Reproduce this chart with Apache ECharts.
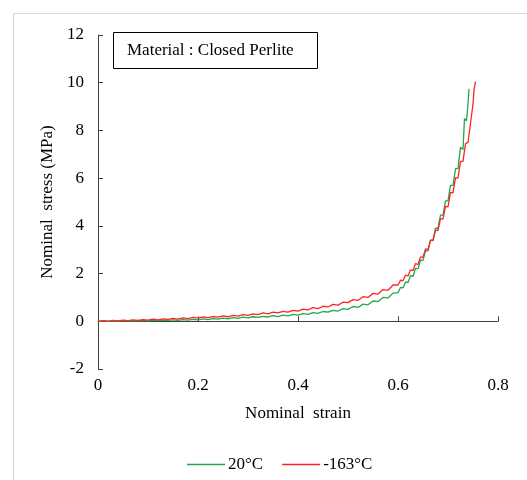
<!DOCTYPE html>
<html><head><meta charset="utf-8">
<script src="https://cdn.jsdelivr.net/npm/echarts@6/dist/echarts.min.js"></script>
<style>html,body{margin:0;padding:0;background:#fff}#c{width:527px;height:480px}</style>
</head><body><div id="c"></div>
<script>
const seriesNames = ['20\u00b0C', '-163\u00b0C'];
const strain20 = [0.00,0.01,0.02,0.03,0.04,0.05,0.06,0.07,0.08,0.09,0.10,0.11,0.12,0.13,0.14,0.15,0.16,0.17,0.18,0.19,0.20,0.21,0.22,0.23,0.24,0.25,0.26,0.27,0.28,0.29,0.30,0.31,0.32,0.33,0.34,0.35,0.36,0.37,0.38,0.39,0.40,0.41,0.42,0.43,0.44,0.45,0.46,0.47,0.48,0.49,0.50,0.51,0.52,0.53,0.54,0.55,0.56,0.57,0.58,0.59,0.60,0.605,0.61,0.615,0.62,0.625,0.63,0.635,0.64,0.645,0.65,0.655,0.66,0.665,0.67,0.675,0.68,0.685,0.69,0.695,0.70,0.705,0.71,0.715,0.72,0.725,0.73,0.733,0.737,0.74,0.742];
const stress20 = [0.00,0.02,0.00,0.02,0.01,0.03,0.01,0.03,0.02,0.04,0.02,0.05,0.03,0.05,0.04,0.06,0.04,0.07,0.05,0.08,0.06,0.10,0.07,0.11,0.09,0.13,0.10,0.15,0.12,0.17,0.14,0.19,0.16,0.21,0.18,0.24,0.20,0.26,0.23,0.29,0.26,0.32,0.29,0.36,0.33,0.41,0.38,0.46,0.43,0.53,0.50,0.62,0.58,0.72,0.69,0.85,0.82,1.00,0.98,1.18,1.20,1.42,1.40,1.65,1.62,1.92,1.88,2.22,2.20,2.56,2.55,2.95,2.95,3.40,3.40,3.90,3.90,4.45,4.45,5.05,5.05,5.70,5.70,6.40,6.40,7.30,7.20,8.50,8.40,9.10,9.75];
const strain163 = [0.00,0.01,0.02,0.03,0.04,0.05,0.06,0.07,0.08,0.09,0.10,0.11,0.12,0.13,0.14,0.15,0.16,0.17,0.18,0.19,0.20,0.21,0.22,0.23,0.24,0.25,0.26,0.27,0.28,0.29,0.30,0.31,0.32,0.33,0.34,0.35,0.36,0.37,0.38,0.39,0.40,0.41,0.42,0.43,0.44,0.45,0.46,0.47,0.48,0.49,0.50,0.51,0.52,0.53,0.54,0.55,0.56,0.57,0.58,0.59,0.60,0.605,0.61,0.615,0.62,0.625,0.63,0.635,0.64,0.645,0.65,0.655,0.66,0.665,0.67,0.675,0.68,0.685,0.69,0.695,0.70,0.705,0.71,0.715,0.72,0.725,0.73,0.735,0.74,0.745,0.75,0.752,0.755];
const stress163 = [0.00,0.03,0.01,0.04,0.02,0.05,0.03,0.06,0.04,0.07,0.05,0.09,0.06,0.10,0.08,0.12,0.09,0.14,0.11,0.16,0.13,0.18,0.15,0.20,0.17,0.23,0.19,0.25,0.22,0.28,0.25,0.31,0.28,0.35,0.31,0.38,0.35,0.42,0.38,0.46,0.43,0.51,0.48,0.57,0.53,0.63,0.60,0.71,0.68,0.80,0.78,0.91,0.88,1.03,1.00,1.17,1.14,1.33,1.30,1.52,1.52,1.72,1.70,1.93,1.90,2.16,2.12,2.42,2.38,2.70,2.68,3.03,3.00,3.40,3.38,3.82,3.80,4.30,4.28,4.82,4.80,5.40,5.38,6.02,6.00,6.70,6.70,7.45,7.50,8.30,9.10,9.70,10.05];
const annotationText = 'Material : Closed Perlite';
const xTitle = 'Nominal  strain';
const yTitle = 'Nominal  stress (MPa)';

const font = 'Liberation Serif';
const fs = 17;
const axisColor = '#404040';
const greenColor = '#22a64e';
const redColor = '#ff2424';
const pair = (xs, ys) => xs.map((x, i) => [x, ys[i]]);

const chart = echarts.init(document.getElementById('c'), null, {renderer: 'canvas'});
chart.setOption({
  animation: false,
  backgroundColor: '#fff',
  textStyle: {fontFamily: font},
  grid: {left: 98, right: 29, top: 35, bottom: 111, containLabel: false},
  graphic: [
    {type: 'rect', shape: {x: 13.5, y: 13.5, width: 700, height: 700}, style: {fill: 'none', stroke: '#d9d9d9', lineWidth: 1}, silent: true},
    {type: 'rect', shape: {x: 113.5, y: 32.5, width: 204, height: 36}, style: {fill: '#fff', stroke: '#000', lineWidth: 1}, z: 10},
    {type: 'text', x: 127, y: 51, style: {text: annotationText, font: fs + 'px "Liberation Serif"', fill: '#000', verticalAlign: 'middle'}, z: 11}
  ],
  legend: {
    show: true,
    data: seriesNames,
    left: 182, top: 451,
    icon: 'rect',
    itemWidth: 38, itemHeight: 1.5, itemGap: 19,
    textStyle: {fontFamily: font, fontSize: fs, color: '#000', padding: [0, 0, 0, -2]}
  },
  xAxis: [
    {type: 'value', min: 0, max: 0.8, interval: 0.2, position: 'bottom',
     axisLine: {show: false}, axisTick: {show: false}, splitLine: {show: false},
     axisLabel: {fontFamily: font, fontSize: fs, color: '#000', margin: 8},
     name: xTitle, nameLocation: 'middle', nameGap: 36,
     nameTextStyle: {fontFamily: font, fontSize: fs, color: '#000'}},
    {type: 'value', min: 0, max: 0.8, interval: 0.2, position: 'bottom',
     axisLine: {show: true, onZero: true, onZeroAxisIndex: 0, lineStyle: {color: axisColor, width: 1}},
     axisTick: {show: true, inside: true, length: 5, lineStyle: {color: axisColor}},
     axisLabel: {show: false}, splitLine: {show: false}}
  ],
  yAxis: {
    type: 'value', min: -2, max: 12, interval: 2,
    axisLine: {show: true, onZero: false, lineStyle: {color: axisColor, width: 1}},
    axisTick: {show: true, inside: true, length: 5, lineStyle: {color: axisColor}},
    axisLabel: {fontFamily: font, fontSize: fs, color: '#000', margin: 14},
    splitLine: {show: false},
    name: yTitle, nameLocation: 'middle', nameGap: 40,
    nameTextStyle: {fontFamily: font, fontSize: fs, color: '#000'}
  },
  series: [
    {name: seriesNames[0], type: 'line', xAxisIndex: 0, data: pair(strain20, stress20), showSymbol: false, symbol: 'none',
     lineStyle: {color: greenColor, width: 1.3}, itemStyle: {color: greenColor}, z: 3},
    {name: seriesNames[1], type: 'line', xAxisIndex: 0, data: pair(strain163, stress163), showSymbol: false, symbol: 'none',
     lineStyle: {color: redColor, width: 1.3}, itemStyle: {color: redColor}, z: 4}
  ]
});
</script></body></html>
